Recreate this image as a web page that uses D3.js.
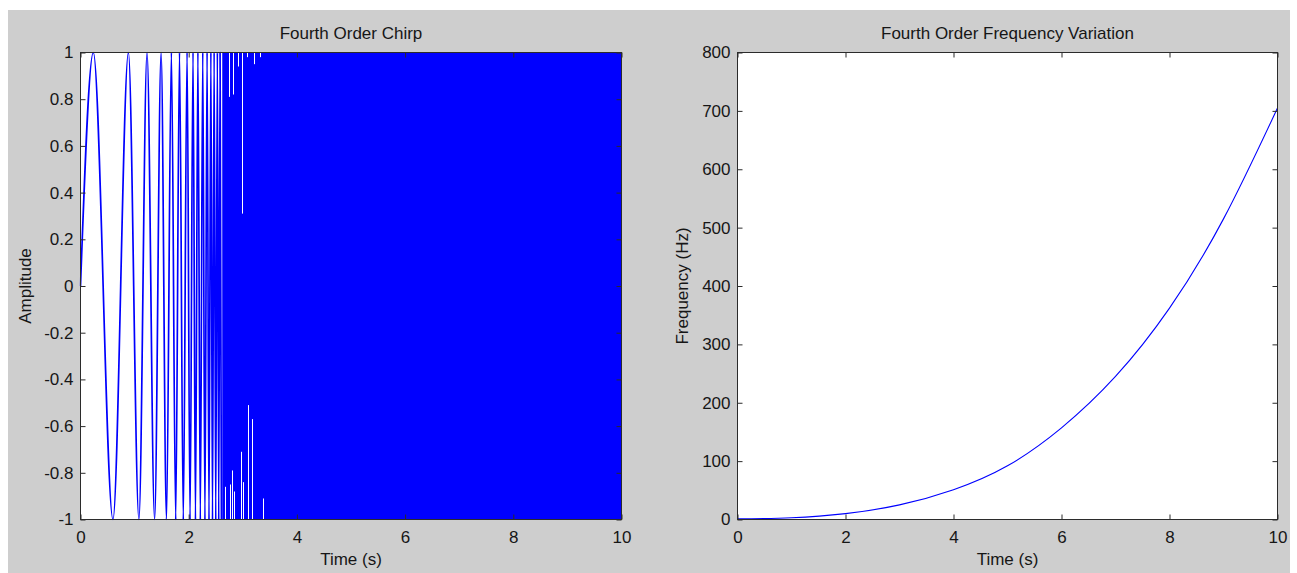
<!DOCTYPE html>
<html>
<head>
<meta charset="utf-8">
<script src="https://cdn.jsdelivr.net/npm/d3@7"></script>
<style>
  body { margin: 0; background: #fff; }
  svg text { font-family: "Liberation Sans", Arial, sans-serif; font-size: 17px; fill: #161616; }
</style>
</head>
<body>
<div class="js-chart"></div>
<script>
// chirp extrema that can still be told apart (time in s, amplitude)
let chirpTimes = [0, 0.237, 0.60, 0.886, 1.08, 1.23, 1.37, 1.49, 1.59, 1.68, 1.76, 1.83, 1.90, 1.97,
    2.025, 2.08, 2.125, 2.17, 2.215, 2.26, 2.30, 2.34, 2.375, 2.41, 2.44, 2.47, 2.50, 2.53, 2.555, 2.58, 2.605];
let chirpValues = [0, 1, -1, 1, -1, 1, -1, 1, -1, 1, -1, 1, -1, 1,
    -1, 1, -1, 1, -1, 1, -1, 1, -1, 1, -1, 1, -1, 1, -1, 1, -1];
// after this the oscillation is finer than a pixel: a solid band
let denseTimes = [2.62, 10];
// white slits left in the band (time, amplitude the signal reaches there)
let topGapTimes = [2.75, 2.81, 2.92, 2.98, 3.07, 3.21, 3.32];
let topGapValues = [0.81, 0.82, 0.94, 0.31, 0.98, 0.95, 0.98];
let bottomGapTimes = [2.675, 2.755, 2.80, 2.84, 2.965, 3.01, 3.105, 3.17, 3.37];
let bottomGapValues = [-0.86, -0.85, -0.79, -0.88, -0.71, -0.84, -0.51, -0.57, -0.91];

// instantaneous frequency (Hz)
let freqTimes = [0, 1, 2, 3, 4, 5, 6, 7, 8, 9, 10];
let freqValues = [1, 3, 10, 25, 51, 92, 157, 245, 362, 515, 705];

let timeTicks = [0, 2, 4, 6, 8, 10];
let ampTicks = [-1, -0.8, -0.6, -0.4, -0.2, 0, 0.2, 0.4, 0.6, 0.8, 1];
let freqTicks = [0, 100, 200, 300, 400, 500, 600, 700, 800];

let width = 1297, height = 573;
let plotTop = 52.5, plotBottom = 519.5;

let svg = d3.select(".js-chart").append("svg")
    .attr("width", width)
    .attr("height", height);

svg.append("rect")
    .attr("x", 8).attr("y", 10)
    .attr("width", 1282).attr("height", height - 10)
    .attr("fill", "#cecece");

function panel(left, right, yDomain, yTicks, yFmt, title, yLabel, id) {
    let x = d3.scaleLinear().domain([0, 10]).range([left, right]);
    let y = d3.scaleLinear().domain(yDomain).range([plotBottom, plotTop]);
    let g = svg.append("g");

    g.append("rect")
        .attr("x", left).attr("y", plotTop)
        .attr("width", right - left).attr("height", plotBottom - plotTop)
        .attr("fill", "#fff");

    g.append("clipPath").attr("id", id)
        .append("rect")
        .attr("x", left - 1).attr("y", plotTop - 1)
        .attr("width", right - left + 2).attr("height", plotBottom - plotTop + 2);

    let data = g.append("g").attr("clip-path", `url(#${id})`);

    // axes: ticks pointing inwards on all four sides
    let strip = s => s.select(".domain").remove();
    g.append("g").attr("transform", `translate(0,${plotBottom})`)
        .call(d3.axisBottom(x).tickValues(timeTicks).tickSize(-5).tickPadding(11).tickFormat(d3.format("d")))
        .call(strip);
    g.append("g").attr("transform", `translate(0,${plotTop})`)
        .call(d3.axisTop(x).tickValues(timeTicks).tickSize(-5).tickFormat(""))
        .call(strip);
    g.append("g").attr("transform", `translate(${left},0)`)
        .call(d3.axisLeft(y).tickValues(yTicks).tickSize(-5).tickPadding(7).tickFormat(yFmt))
        .call(strip);
    g.append("g").attr("transform", `translate(${right},0)`)
        .call(d3.axisRight(y).tickValues(yTicks).tickSize(-5).tickFormat(""))
        .call(strip);
    g.selectAll(".tick line").attr("stroke", "#2b2b2b");
    g.selectAll(".tick text").attr("font-size", null).attr("font-family", null);

    g.append("text")
        .attr("x", (left + right) / 2).attr("y", 39)
        .attr("text-anchor", "middle")
        .text(title);
    g.append("text")
        .attr("x", (left + right) / 2).attr("y", 565)
        .attr("text-anchor", "middle")
        .text("Time (s)");
    g.append("text")
        .attr("transform", `translate(${left - 50},${(plotTop + plotBottom) / 2}) rotate(-90)`)
        .attr("text-anchor", "middle")
        .text(yLabel);

    return {x, y, g, data};
}

// ---- left: the chirp ----
let p1 = panel(80.5, 621.5, [-1, 1], ampTicks, d => String(+d.toFixed(1)),
    "Fourth Order Chirp", "Amplitude", "clip-chirp");

let chirp = chirpTimes.map((t, i) => ({t: t, v: chirpValues[i]}));
let line1 = d3.line().x(d => p1.x(d.t)).y(d => p1.y(d.v)).curve(d3.curveMonotoneX);
p1.data.append("path")
    .attr("d", line1(chirp))
    .attr("fill", "none")
    .attr("stroke", "#0000ff")
    .attr("stroke-width", 1.7);

let band = d3.area().x(d => p1.x(d)).y0(p1.y(-1)).y1(p1.y(1));
p1.data.append("path")
    .attr("d", band(denseTimes))
    .attr("fill", "#0000ff");

let gaps = topGapTimes.map((t, i) => ({t: t, from: 1, to: topGapValues[i]}))
    .concat(bottomGapTimes.map((t, i) => ({t: t, from: -1, to: bottomGapValues[i]})));
p1.data.selectAll("line.gap")
    .data(gaps)
    .join("line")
    .attr("class", "gap")
    .attr("x1", d => Math.round(p1.x(d.t)) + 0.5)
    .attr("x2", d => Math.round(p1.x(d.t)) + 0.5)
    .attr("y1", d => p1.y(d.from))
    .attr("y2", d => p1.y(d.to))
    .attr("stroke", "#fff")
    .attr("stroke-width", 1);

// ---- right: frequency ----
let p2 = panel(737.5, 1277.5, [0, 800], freqTicks, d3.format("d"),
    "Fourth Order Frequency Variation", "Frequency (Hz)", "clip-freq");

let freq = freqTimes.map((t, i) => ({t: t, f: freqValues[i]}));
let line2 = d3.line().x(d => p2.x(d.t)).y(d => p2.y(d.f)).curve(d3.curveNatural);
p2.data.append("path")
    .attr("d", line2(freq))
    .attr("fill", "none")
    .attr("stroke", "#0000ff")
    .attr("stroke-width", 1.1);

// box on top
[p1, p2].forEach(p => {
    p.g.append("rect")
        .attr("x", p.x.range()[0]).attr("y", plotTop)
        .attr("width", p.x.range()[1] - p.x.range()[0]).attr("height", plotBottom - plotTop)
        .attr("fill", "none")
        .attr("stroke", "#2b2b2b")
        .attr("stroke-width", 1);
});
</script>
</body>
</html>
